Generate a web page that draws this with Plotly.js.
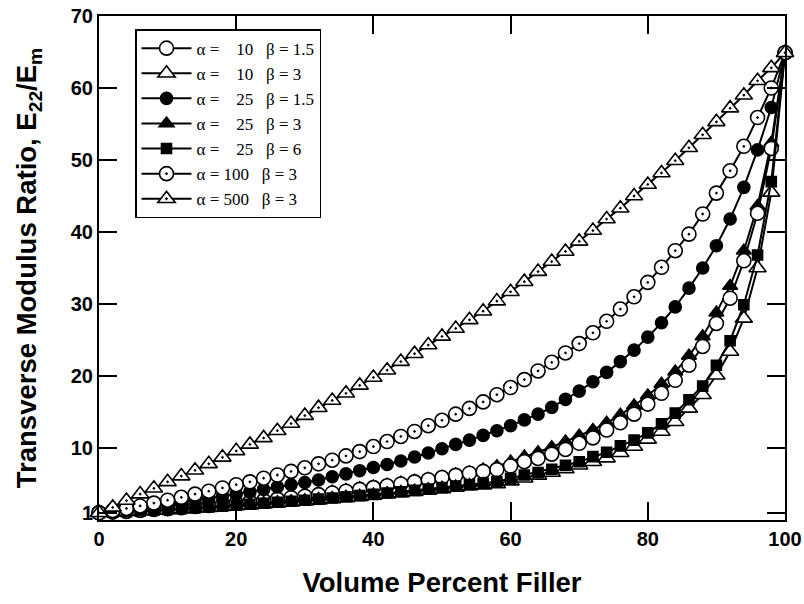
<!DOCTYPE html>
<html>
<head>
<meta charset="utf-8">
<script src="https://cdn.plot.ly/plotly-3.0.1.min.js"></script>
<style>html,body{margin:0;padding:0;background:#fff;}#chart{width:804px;height:604px;}</style>
</head>
<body>
<div id="chart"></div>
<script>
const volumePercent = [0,2,4,6,8,10,12,14,16,18,20,22,24,26,28,30,32,34,36,38,40,42,44,46,48,50,52,54,56,58,60,62,64,66,68,70,72,74,76,78,80,82,84,86,88,90,92,94,96,98,100];

const a10b15 = [1.0,1.1,1.2,1.32,1.45,1.58,1.72,1.87,2.02,2.18,2.35,2.52,2.7,2.9,3.1,3.3,3.52,3.75,4.0,4.25,4.5,4.75,5.0,5.3,5.6,5.9,6.2,6.5,6.75,7.0,7.5,8.1,8.55,9.15,9.8,10.65,11.4,12.5,13.5,14.7,16.1,17.6,19.4,21.5,24.1,27.3,30.8,36.0,42.6,51.6,64.9];
const a10b3 = [1.0,1.07,1.15,1.23,1.32,1.41,1.51,1.61,1.72,1.83,1.95,2.07,2.2,2.33,2.47,2.61,2.76,2.91,3.07,3.23,3.4,3.57,3.75,3.93,4.12,4.32,4.52,4.73,4.85,5.0,5.4,5.8,6.2,6.6,7.1,7.6,8.1,8.6,9.35,10.2,11.2,12.3,13.65,15.5,17.4,20.1,23.4,28.0,35.0,45.5,64.9];
const a25b15 = [1.0,1.2,1.45,1.7,1.95,2.2,2.45,2.7,3.0,3.3,3.6,3.9,4.25,4.6,4.9,5.2,5.55,6.0,6.4,6.85,7.3,7.7,8.2,8.75,9.3,9.9,10.5,11.1,11.75,12.4,13.1,13.9,14.7,15.65,16.75,17.9,19.2,20.5,22.0,23.6,25.4,27.4,29.6,32.2,35.0,38.1,41.8,46.2,51.4,57.3,64.9];
const a25b3 = [1.0,1.1,1.2,1.32,1.45,1.6,1.75,1.9,2.06,2.23,2.4,2.6,2.8,3.0,3.2,3.42,3.65,3.9,4.15,4.4,4.65,4.9,5.15,5.45,5.7,6.0,6.3,6.6,7.0,7.45,8.1,8.8,9.4,10.1,10.9,11.7,12.5,13.5,14.6,15.9,17.3,18.9,20.6,22.8,25.5,28.8,32.5,37.4,43.6,52.4,64.9];
const a25b6 = [1.0,1.08,1.17,1.26,1.36,1.46,1.57,1.68,1.8,1.92,2.05,2.18,2.32,2.46,2.6,2.75,2.9,3.06,3.22,3.39,3.56,3.74,3.92,4.11,4.3,4.5,4.7,4.9,5.1,5.3,5.8,6.25,6.6,7.05,7.6,8.1,8.8,9.4,10.3,11.1,12.1,13.35,14.85,16.7,18.6,21.5,24.9,29.9,36.8,47.0,64.9];
const a100b3 = [1.0,1.3,1.6,1.95,2.35,2.75,3.15,3.6,4.0,4.45,4.9,5.3,5.8,6.25,6.75,7.25,7.8,8.3,8.9,9.5,10.2,10.9,11.6,12.3,13.1,13.85,14.7,15.5,16.4,17.4,18.4,19.5,20.7,21.9,23.2,24.5,26.0,27.6,29.3,31.0,33.0,35.1,37.4,39.7,42.5,45.4,48.5,51.9,55.9,60.0,64.9];
const a500b3 = [1.0,1.75,2.7,3.6,4.4,5.3,6.1,6.9,7.8,8.7,9.6,10.5,11.4,12.4,13.4,14.5,15.6,16.6,17.6,18.7,19.8,20.8,22.0,23.1,24.3,25.5,26.6,27.8,29.0,30.4,31.7,33.1,34.5,35.9,37.3,38.7,40.2,41.8,43.3,45.0,46.6,48.2,49.9,51.7,53.5,55.3,57.2,59.0,61.0,62.8,64.9];

const nb = '\u00a0';
const names = [
  'α =' + nb + nb + nb + nb + '10' + nb + nb + nb + 'β = 1.5',
  'α =' + nb + nb + nb + nb + '10' + nb + nb + nb + 'β = 3',
  'α =' + nb + nb + nb + nb + '25' + nb + nb + nb + 'β = 1.5',
  'α =' + nb + nb + nb + nb + '25' + nb + nb + nb + 'β = 3',
  'α =' + nb + nb + nb + nb + '25' + nb + nb + nb + 'β = 6',
  'α = 100' + nb + nb + nb + 'β = 3',
  'α = 500' + nb + nb + nb + 'β = 3'
];
const xTicks = [0,20,40,60,80,100];
const yTicks = [1,10,20,30,40,50,60,70];

function tr(y, name, rank, symbol, fill, size) {
  return {
    x: volumePercent, y: y, name: name, legendrank: rank,
    type: 'scatter', mode: 'lines+markers', cliponaxis: false,
    line: {color: '#000', width: 2},
    marker: {symbol: symbol, color: fill, size: size, line: {color: '#000', width: 1.6}}
  };
}

const data = [
  tr(a25b3, names[3], 4, 'triangle-up', '#000', 13),
  tr(a10b15, names[0], 1, 'circle', '#fff', 14),
  tr(a10b3, names[1], 2, 'triangle-up', '#fff', 15),
  tr(a25b6, names[4], 5, 'square', '#000', 10),
  tr(a25b15, names[2], 3, 'circle', '#000', 12),
  tr(a100b3, names[5], 6, 'circle-dot', '#fff', 14),
  tr(a500b3, names[6], 7, 'triangle-up-dot', '#fff', 15)
];

const tickFont = {family: 'Liberation Sans, Arial, sans-serif', size: 20, color: '#000', weight: 'bold'};
const titleFont = {family: 'Liberation Sans, Arial, sans-serif', size: 27.5, color: '#000', weight: 'bold'};

const layout = {
  width: 804, height: 604,
  margin: {l: 99, r: 19, t: 16, b: 84},
  paper_bgcolor: '#fff', plot_bgcolor: '#fff',
  showlegend: true,
  legend: {
    x: 0.0525, y: 0.974, xanchor: 'left', yanchor: 'top',
    bgcolor: '#fff', bordercolor: '#000', borderwidth: 1.5,
    font: {family: 'Liberation Serif, Times New Roman, serif', size: 17, color: '#000'},
    itemwidth: 50, traceorder: 'normal'
  },
  xaxis: {
    range: [0, 100], tickvals: xTicks, ticktext: xTicks.map(String),
    ticks: 'inside', ticklen: 18, tickwidth: 2, tickcolor: '#000',
    showline: true, linecolor: '#000', linewidth: 2, mirror: 'ticks',
    showgrid: false, zeroline: false, tickfont: tickFont,
    title: {text: 'Volume Percent Filler', font: titleFont, standoff: 24}
  },
  yaxis: {
    range: [0, 70], tickvals: yTicks, ticktext: yTicks.map(String),
    ticks: 'inside', ticklen: 18, tickwidth: 2, tickcolor: '#000',
    showline: true, linecolor: '#000', linewidth: 2, mirror: 'ticks',
    showgrid: false, zeroline: false, tickfont: tickFont,
    title: {text: 'Transverse Modulus Ratio, E<sub>22</sub>/E<sub>m</sub>', font: titleFont, standoff: 26}
  }
};

Plotly.newPlot('chart', data, layout, {displayModeBar: false, staticPlot: true});
</script>
</body>
</html>
